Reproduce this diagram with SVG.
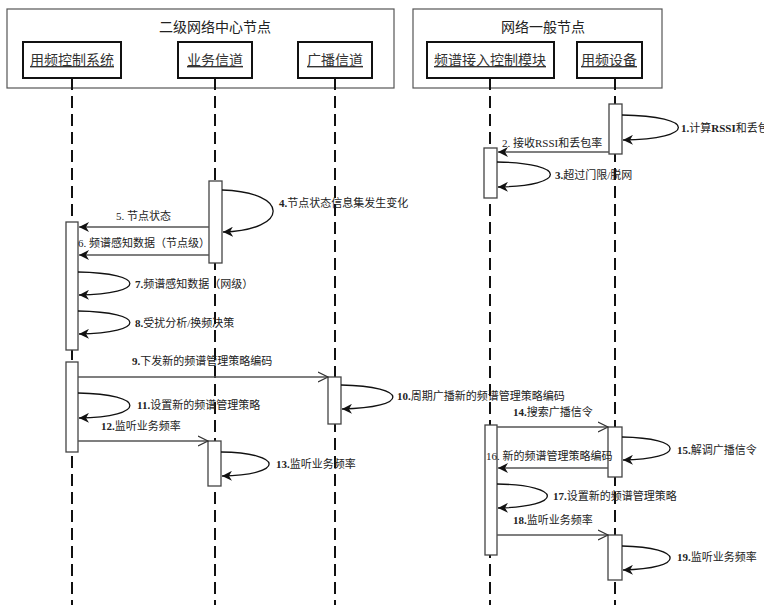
<svg xmlns="http://www.w3.org/2000/svg" width="764" height="609" viewBox="0 0 764 609">
<style>
.bg{fill:#fff}
.outer{fill:#fff;stroke:#555;stroke-width:1.2}
.inner{fill:#fff;stroke:#111;stroke-width:2}
.life{stroke:#111;stroke-width:2;stroke-dasharray:12,6;fill:none}
.act{fill:#fff;stroke:#444;stroke-width:1.3}
.msg{stroke:#555;stroke-width:1.3;fill:none}
.loop{stroke:#111;stroke-width:1.3;fill:none}
.title{font-family:"Liberation Serif","Noto Sans CJK SC",serif;font-size:14px;fill:#222;text-anchor:middle}
.name{font-family:"Liberation Serif","Noto Sans CJK SC",serif;font-size:14px;fill:#333;text-anchor:middle;text-decoration:underline}
.lbl{font-family:"Liberation Serif","Noto Sans CJK SC",serif;font-size:11px;fill:#222}
.lbl tspan{font-weight:bold}
</style>
<defs>
<marker id="fa" markerUnits="userSpaceOnUse" markerWidth="12" markerHeight="10" refX="10" refY="5" orient="auto">
<path d="M0,0 L10,5 L0,10 L3,5 Z" fill="#111"/>
</marker>
<marker id="oa" markerUnits="userSpaceOnUse" markerWidth="12" markerHeight="12" refX="10" refY="6" orient="auto">
<path d="M0,1 L10,6 L0,11" fill="none" stroke="#333" stroke-width="1.2"/>
</marker>
</defs>
<rect class="bg" x="0" y="0" width="764" height="609"/>

<g id="center-node">
<rect class="outer" x="7" y="9" width="387" height="79"/>
<text class="title" x="215" y="32">二级网络中心节点</text>
</g>
<g id="general-node">
<rect class="outer" x="413" y="9" width="249" height="79"/>
<text class="title" x="543" y="32">网络一般节点</text>
</g>

<g id="freq-control-system">
<line class="life" x1="72" y1="78" x2="72" y2="605"/>
<rect class="inner" x="23" y="42" width="98" height="36"/>
<text class="name" x="72" y="65">用频控制系统</text>
<rect class="act" x="66" y="222" width="12" height="128"/>
<rect class="act" x="66" y="362" width="12" height="90"/>
</g>
<g id="service-channel">
<line class="life" x1="215" y1="78" x2="215" y2="605"/>
<rect class="inner" x="178" y="42" width="74" height="36"/>
<text class="name" x="215" y="65">业务信道</text>
<rect class="act" x="209" y="181" width="13" height="82"/>
<rect class="act" x="208" y="441" width="13" height="45"/>
</g>
<g id="broadcast-channel">
<line class="life" x1="335" y1="78" x2="335" y2="605"/>
<rect class="inner" x="298" y="42" width="74" height="36"/>
<text class="name" x="335" y="65">广播信道</text>
<rect class="act" x="328" y="377" width="13" height="47"/>
</g>
<g id="access-control-module">
<line class="life" x1="490" y1="78" x2="490" y2="605"/>
<rect class="inner" x="427" y="42" width="127" height="36"/>
<text class="name" x="490" y="65">频谱接入控制模块</text>
<rect class="act" x="484" y="148" width="13" height="50"/>
<rect class="act" x="485" y="425" width="12" height="130"/>
</g>
<g id="freq-device">
<line class="life" x1="615" y1="78" x2="615" y2="605"/>
<rect class="inner" x="577" y="42" width="65" height="36"/>
<text class="name" x="609" y="65">用频设备</text>
<rect class="act" x="609" y="104" width="13" height="50"/>
<rect class="act" x="608" y="427" width="14" height="50"/>
<rect class="act" x="608" y="535" width="14" height="45"/>
</g>

<g id="connectors">
<path class="loop" d="M622,115 C697,116 697,139 623,140" marker-end="url(#fa)"/>
<text class="lbl" x="681" y="132"><tspan>1.</tspan>计算<tspan>RSSI</tspan>和丢包率</text>
<line class="msg" x1="609" y1="152" x2="498" y2="152" marker-end="url(#fa)"/>
<text class="lbl" x="502" y="147">2. 接收RSSI和丢包率</text>
<path class="loop" d="M497,162 C568,163 568,186 498,187" marker-end="url(#fa)"/>
<text class="lbl" x="555" y="179"><tspan>3.</tspan>超过门限/脱网</text>
<path class="loop" d="M222,190 C290,192 290,230 223,232" marker-end="url(#fa)"/>
<text class="lbl" x="279" y="207"><tspan>4.</tspan>节点状态信息集发生变化</text>
<line class="msg" x1="209" y1="227" x2="79" y2="227" marker-end="url(#fa)"/>
<text class="lbl" x="116" y="220">5. 节点状态</text>
<line class="msg" x1="209" y1="255" x2="79" y2="255" marker-end="url(#fa)"/>
<text class="lbl" x="78" y="247">6. 频谱感知数据（节点级）</text>
<path class="loop" d="M78,272 C147,273 147,294 79,295" marker-end="url(#fa)"/>
<text class="lbl" x="135" y="288"><tspan>7.</tspan>频谱感知数据（网级）</text>
<path class="loop" d="M78,311 C147,312 147,333 79,334" marker-end="url(#fa)"/>
<text class="lbl" x="135" y="327"><tspan>8.</tspan>受扰分析/换频决策</text>
<line class="msg" x1="78" y1="377" x2="328" y2="377" marker-end="url(#oa)"/>
<text class="lbl" x="132" y="365"><tspan>9.</tspan>下发新的频谱管理策略编码</text>
<path class="loop" d="M341,385 C410,386 410,408 342,409" marker-end="url(#fa)"/>
<text class="lbl" x="397" y="400"><tspan>10.</tspan>周期广播新的频谱管理策略编码</text>
<path class="loop" d="M78,393 C147,394 147,417 79,418" marker-end="url(#fa)"/>
<text class="lbl" x="137" y="409"><tspan>11.</tspan>设置新的频谱管理策略</text>
<line class="msg" x1="78" y1="441" x2="208" y2="441" marker-end="url(#oa)"/>
<text class="lbl" x="101" y="430"><tspan>12.</tspan>监听业务频率</text>
<path class="loop" d="M221,452 C285,453 285,475 222,476" marker-end="url(#fa)"/>
<text class="lbl" x="276" y="468"><tspan>13.</tspan>监听业务频率</text>
<line class="msg" x1="497" y1="427" x2="608" y2="427" marker-end="url(#oa)"/>
<text class="lbl" x="513" y="416"><tspan>14.</tspan>搜索广播信令</text>
<path class="loop" d="M622,437 C686,438 686,459 623,460" marker-end="url(#fa)"/>
<text class="lbl" x="677" y="454"><tspan>15.</tspan>解调广播信令</text>
<line class="msg" x1="608" y1="468" x2="498" y2="468" marker-end="url(#fa)"/>
<text class="lbl" x="486" y="460">16. 新的频谱管理策略编码</text>
<path class="loop" d="M497,484 C564,485 564,507 498,508" marker-end="url(#fa)"/>
<text class="lbl" x="553" y="500"><tspan>17.</tspan>设置新的频谱管理策略</text>
<line class="msg" x1="497" y1="535" x2="608" y2="535" marker-end="url(#oa)"/>
<text class="lbl" x="513" y="524"><tspan>18.</tspan>监听业务频率</text>
<path class="loop" d="M622,546 C686,547 686,569 623,570" marker-end="url(#fa)"/>
<text class="lbl" x="677" y="561"><tspan>19.</tspan>监听业务频率</text>
</g>
</svg>
